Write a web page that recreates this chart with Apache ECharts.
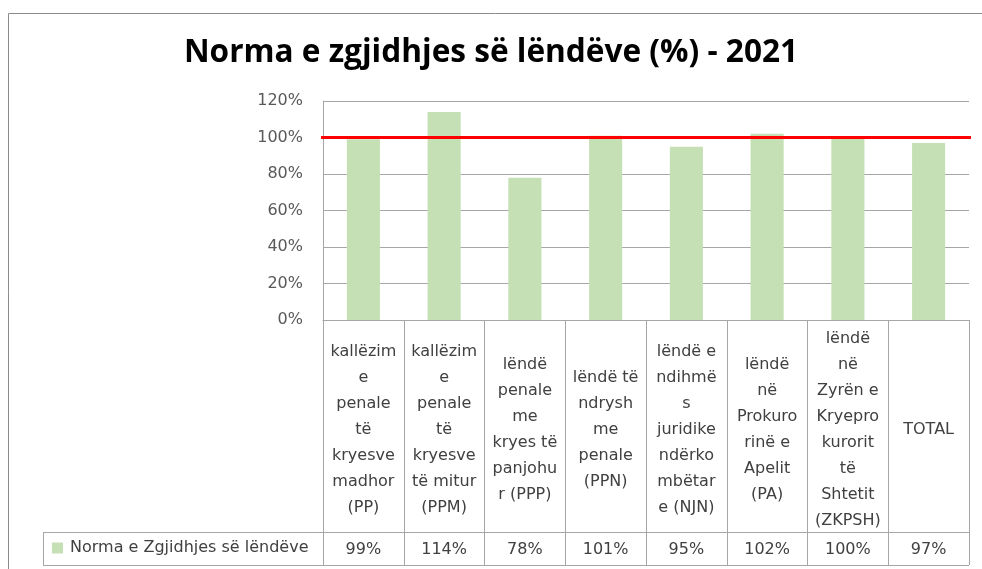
<!DOCTYPE html>
<html>
<head>
    <meta charset="utf-8">
    <title>Norma e zgjidhjes</title>
    <script src="https://cdn.jsdelivr.net/npm/echarts@6/dist/echarts.min.js"></script>
    <style>
        html, body { margin: 0; padding: 0; background: #fff; }
        #chart { width: 982px; height: 569px; }
    </style>
</head>
<body>
<div id="chart"></div>
<script>
    // kategorite (me ndarjet e rreshtave si ne tabele)
    var categories = [
        'kallëzim\ne\npenale\ntë\nkryesve\nmadhor\n(PP)',
        'kallëzim\ne\npenale\ntë\nkryesve\ntë mitur\n(PPM)',
        'lëndë\npenale\nme\nkryes të\npanjohu\nr (PPP)',
        'lëndë të\nndrysh\nme\npenale\n(PPN)',
        'lëndë e\nndihmë\ns\njuridike\nndërko\nmbëtar\ne (NJN)',
        'lëndë\nnë\nProkuro\nrinë e\nApelit\n(PA)',
        'lëndë\nnë\nZyrën e\nKryepro\nkurorit\ntë\nShtetit\n(ZKPSH)',
        'TOTAL'
    ];
    var rates = [99, 114, 78, 101, 95, 102, 100, 97];
    var target = 100;
    var seriesName = 'Norma e Zgjidhjes së lëndëve';
    var yTicks = [0, 20, 40, 60, 80, 100, 120];

    var grey = '#a6a6a6';
    var txt = '#404040';
    var font = 'DejaVu Sans';

    var chart = echarts.init(document.getElementById('chart'));

    var option = {
        animation: false,
        backgroundColor: '#fff',
        title: {
            text: 'Norma e zgjidhjes së lëndëve (%) - 2021',
            left: 'center',
            top: 32,
            textStyle: { fontFamily: 'Open Sans', fontWeight: 'bold', fontSize: 31.6, color: '#000' }
        },
        legend: {
            data: [seriesName],
            left: 52,
            top: 540,
            padding: 0,
            icon: 'rect',
            itemWidth: 11,
            itemHeight: 11,
            textStyle: { fontFamily: font, fontSize: 16, color: txt, padding: [0, 0, 0, 2] }
        },
        grid: { left: 323, right: 13, top: 101, bottom: 249 },
        xAxis: [
            {
                type: 'category',
                position: 'bottom',
                data: categories,
                axisLine: { lineStyle: { color: grey } },
                axisTick: { show: true, interval: 0, length: 245, lineStyle: { color: grey } },
                axisLabel: {
                    interval: 0, margin: 110, verticalAlign: 'middle',
                    fontFamily: font, fontSize: 16, lineHeight: 26, color: txt
                }
            },
            {
                type: 'category',
                position: 'bottom',
                data: rates.map(function (v) { return v + '%'; }),
                axisLine: { show: false },
                axisTick: { show: false },
                axisLabel: {
                    interval: 0, margin: 230, verticalAlign: 'middle',
                    fontFamily: font, fontSize: 16, color: txt
                }
            },
            { type: 'value', show: false, min: 0, max: 1 }
        ],
        yAxis: {
            type: 'value',
            min: yTicks[0],
            max: yTicks[yTicks.length - 1],
            interval: 20,
            axisLine: { show: true, lineStyle: { color: grey } },
            axisTick: { show: false },
            splitLine: { lineStyle: { color: grey } },
            axisLabel: {
                margin: 20, formatter: '{value}%',
                fontFamily: font, fontSize: 16, color: '#595959'
            }
        },
        series: [
            {
                name: seriesName,
                type: 'bar',
                xAxisIndex: 0,
                data: rates,
                barWidth: '41%',
                itemStyle: { color: '#c5e0b4' }
            },
            {
                name: 'target',
                type: 'line',
                xAxisIndex: 2,
                clip: false,
                symbol: 'none',
                z: 5,
                lineStyle: { color: '#ff0000', width: 3 },
                data: [[-0.017, target], [1.02, target]]
            }
        ],
        graphic: [
            { type: 'rect', left: 6, top: 11, shape: { width: 1000, height: 600 },
              style: { fill: null, stroke: '#8c8c8c', lineWidth: 1 }, silent: true },
            { type: 'line', shape: { x1: 43, y1: 532.5, x2: 969, y2: 532.5 }, style: { stroke: grey } },
            { type: 'line', shape: { x1: 43, y1: 565.5, x2: 969, y2: 565.5 }, style: { stroke: grey } },
            { type: 'line', shape: { x1: 43.5, y1: 532, x2: 43.5, y2: 566 }, style: { stroke: grey } }
        ]
    };

    chart.setOption(option);
</script>
</body>
</html>
